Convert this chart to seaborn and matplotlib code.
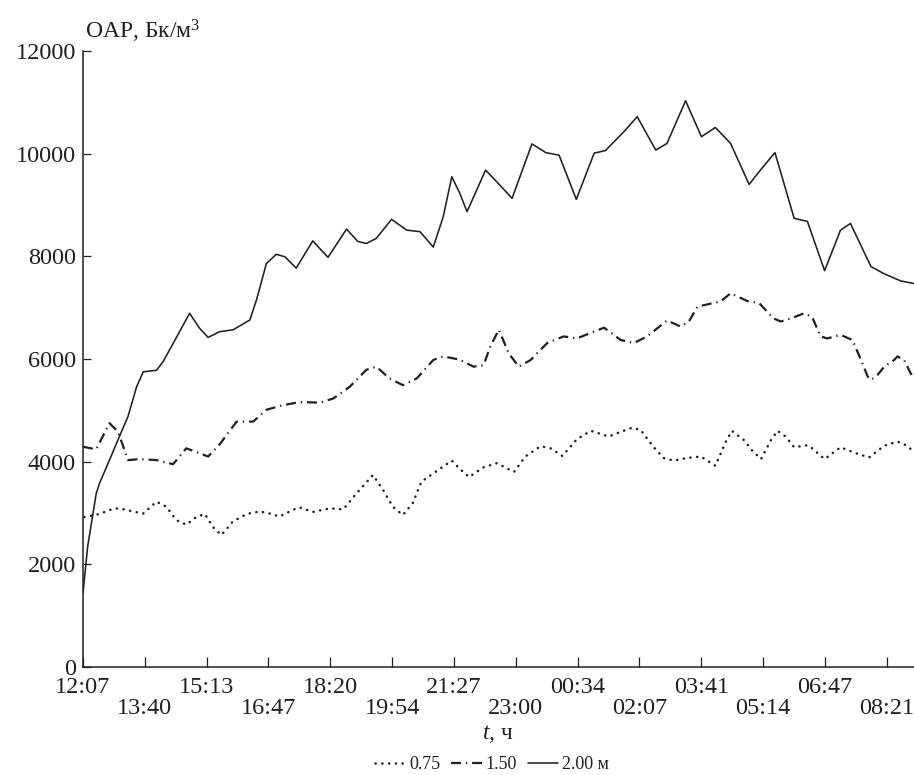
import numpy as np
import pandas as pd
import matplotlib
matplotlib.use("Agg")
import matplotlib.pyplot as plt
from matplotlib.lines import Line2D
import seaborn as sns

# time in minutes after 12:07
t_200 = [0, 7, 20, 25, 40, 55, 68, 81, 91, 111, 121, 136, 161, 176, 189, 206, 227, 252, 262, 277,
         292, 305, 322, 347, 370, 398, 415, 428, 443, 466, 489, 509, 529, 544, 557, 569, 580, 608,
         625, 648, 678, 699, 719, 745, 772, 789, 817, 837, 865, 882, 910, 934, 955, 978, 1006,
         1023, 1045, 1074, 1094, 1120, 1144, 1159, 1190, 1210, 1235, 1255]
v_200 = [1440, 2340, 3380, 3580, 4030, 4490, 4880, 5460, 5750, 5780, 5950, 6300, 6890, 6600, 6420,
         6530, 6570, 6760, 7150, 7860, 8040, 7990, 7770, 8300, 7980, 8530, 8290, 8250, 8350, 8720,
         8510, 8480, 8180, 8770, 9550, 9230, 8870, 9680, 9450, 9130, 10190, 10020, 9970, 9110,
         10010, 10060, 10430, 10720, 10070, 10200, 11030, 10330, 10510, 10200, 9400, 9680, 10020,
         8740, 8680, 7720, 8510, 8640, 7800, 7660, 7520, 7470]

t_150 = [0, 20, 40, 53, 68, 86, 111, 136, 156, 189, 206, 232, 257, 277, 302, 327, 358, 378, 403,
         428, 443, 463, 483, 504, 529, 544, 568, 590, 605, 615, 628, 643, 658, 676, 701, 726, 746,
         767, 787, 812, 832, 852, 882, 903, 915, 928, 945, 963, 978, 1003, 1021, 1043, 1054, 1069,
         1089, 1101, 1114, 1124, 1144, 1162, 1175, 1185, 1190, 1200, 1210, 1225, 1230, 1240, 1250,
         1255]
v_150 = [4290, 4240, 4750, 4580, 4030, 4050, 4030, 3950, 4260, 4100, 4330, 4780, 4780, 5010, 5100,
         5160, 5150, 5230, 5460, 5790, 5850, 5620, 5490, 5620, 5980, 6050, 5990, 5850, 5880, 6240,
         6570, 6110, 5850, 5980, 6310, 6440, 6400, 6510, 6610, 6370, 6310, 6440, 6750, 6630, 6730,
         7020, 7070, 7120, 7280, 7130, 7090, 6790, 6730, 6790, 6890, 6820, 6440, 6400, 6470, 6370,
         5980, 5660, 5590, 5690, 5850, 5980, 6050, 5980, 5720, 5620]

t_075 = [2, 25, 45, 55, 75, 91, 111, 126, 141, 156, 171, 184, 196, 209, 226, 247, 267, 282, 297,
         317, 327, 347, 373, 393, 413, 438, 453, 468, 483, 498, 511, 529, 557, 568, 583, 605, 625,
         651, 668, 691, 706, 724, 746, 767, 794, 812, 829, 842, 862, 877, 892, 912, 933, 955, 971,
         980, 998, 1011, 1024, 1039, 1049, 1061, 1074, 1094, 1101, 1120, 1144, 1164, 1187, 1210,
         1230, 1245, 1255]
v_075 = [2920, 2980, 3080, 3090, 3030, 2990, 3220, 3120, 2860, 2770, 2920, 2980, 2730, 2570, 2830,
         2980, 3030, 2990, 2930, 3060, 3110, 3020, 3090, 3070, 3380, 3740, 3450, 3120, 2960, 3190,
         3610, 3770, 4020, 3870, 3700, 3890, 3970, 3800, 4100, 4300, 4260, 4110, 4440, 4600, 4490,
         4580, 4660, 4620, 4280, 4070, 4020, 4070, 4100, 3920, 4390, 4600, 4420, 4210, 4050, 4420,
         4600, 4490, 4280, 4320, 4260, 4050, 4280, 4180, 4080, 4310, 4390, 4310, 4180]

tick_labels = ['12:07', '13:40', '15:13', '16:47', '18:20', '19:54', '21:27', '23:00',
               '00:34', '02:07', '03:41', '05:14', '06:47', '08:21']
tick_step = 93.38
y_ticks = [0, 2000, 4000, 6000, 8000, 10000, 12000]
legend_labels = ['0.75', '1.50', '2.00 м']

sns.set_style("ticks")
plt.rcParams['font.family'] = ['Liberation Serif', 'DejaVu Serif']
plt.rcParams['mathtext.fontset'] = 'custom'
plt.rcParams['mathtext.rm'] = 'Liberation Serif'
plt.rcParams['mathtext.it'] = 'Liberation Serif:italic'

ink = '#231f20'

fig = plt.figure(figsize=(9.14, 7.75), dpi=100)
ax = fig.add_axes([0.0908, 0.1394, 0.9092, 0.7948])

df200 = pd.DataFrame({'t': t_200, 'v': v_200})
df150 = pd.DataFrame({'t': t_150, 'v': v_150})
df075 = pd.DataFrame({'t': t_075, 'v': v_075})

sns.lineplot(data=df075, x='t', y='v', ax=ax, color=ink, lw=1.8,
             linestyle=(0, (0.1, 2.6)), dash_capstyle='round', solid_capstyle='round')
sns.lineplot(data=df150, x='t', y='v', ax=ax, color=ink, lw=1.6,
             linestyle=(0, (4.5, 2.2, 0.6, 2.2)), dash_capstyle='butt',
             dash_joinstyle='round')
sns.lineplot(data=df200, x='t', y='v', ax=ax, color=ink, lw=1.15, solid_joinstyle='round')

ax.set_xlim(0, 1255)
ax.set_ylim(0, 12000)
ticks = [i * tick_step for i in range(len(tick_labels))]
ax.set_xticks(ticks)
ax.set_xticklabels(tick_labels)
ax.set_yticks(y_ticks)
ax.set_yticklabels([str(v) for v in y_ticks])
ax.set_xlabel('')
ax.set_ylabel('')

for s in ['top', 'right']:
    ax.spines[s].set_visible(False)
for s in ['left', 'bottom']:
    ax.spines[s].set_linewidth(1.1)
    ax.spines[s].set_color(ink)

ax.tick_params(axis='x', direction='in', length=7.5, width=0.9, color=ink,
               labelsize=17.5, labelcolor=ink, pad=7)
ax.tick_params(axis='y', direction='in', length=6, width=0.9, color=ink,
               labelsize=17.5, labelcolor=ink, pad=5)
for i, tk in enumerate(ax.xaxis.get_major_ticks()):
    if i % 2 == 1:
        tk.set_pad(7 + 15)

fig.text(0.093, 0.950, 'ОАР, Бк/м$^3$', fontsize=17, color=ink, ha='left', va='baseline')
fig.text(0.545, 0.047, '$t$, ч', fontsize=17, color=ink, ha='center', va='baseline')

handles = [Line2D([], [], color=ink, lw=1.8, linestyle=(0, (0.1, 2.6)), dash_capstyle='round'),
           Line2D([], [], color=ink, lw=1.6, linestyle=(0, (4.5, 2.2, 0.6, 2.2))),
           Line2D([], [], color=ink, lw=1.15)]
fig.legend(handles, legend_labels, loc='center', bbox_to_anchor=(0.538, 0.013), ncol=3,
           frameon=False, fontsize=13, handlelength=1.7, handletextpad=0.2,
           columnspacing=0.6, borderpad=0, labelcolor=ink)

fig.savefig('out.png', dpi=100)
